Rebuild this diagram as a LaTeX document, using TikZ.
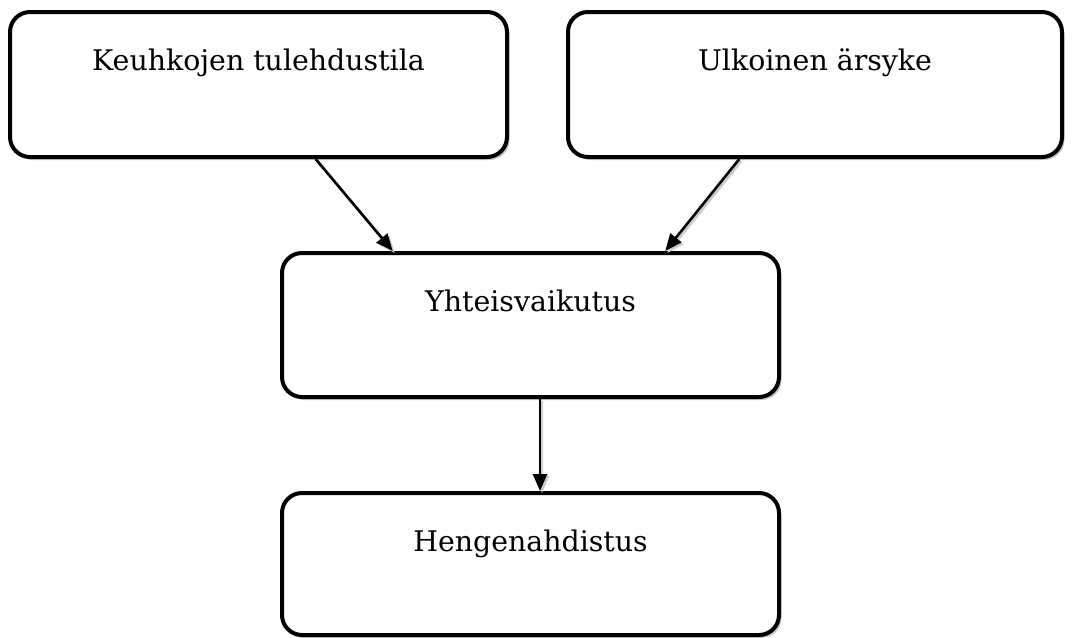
\documentclass[tikz,border=0pt]{standalone}
\usepackage{fontspec}
\setmainfont{DejaVu Serif}
\usetikzlibrary{arrows.meta,shadows,calc}
\begin{document}
\begin{tikzpicture}[x=1pt,y=-1pt,
  box/.style={draw=black, line width=4pt, rounded corners=20pt, fill=white,
    inner sep=0pt, minimum width=497pt, minimum height=145pt,
    drop shadow={shadow xshift=2.5pt, shadow yshift=-3pt, fill=black!22, opacity=1}},
  lbl/.style={anchor=base, inner sep=0pt, font=\fontsize{28.4}{32}\selectfont},
  conn/.style={line width=2.6pt, -{Triangle[length=17pt,width=14pt]},
    preaction={draw=black!20, line width=2.6pt, transform canvas={shift={(2pt,-2pt)}}}}
]
\useasboundingbox (0,0) rectangle (1081,637);
\node[box] (b1) at (258.5,84.5) {};
\node[box, minimum width=494pt] (b2) at (815,84.5) {};
\node[box, minimum height=144pt] (b3) at (530.5,325) {};
\node[box, minimum height=142pt] (b4) at (530.5,564) {};
\node[lbl] (t1) at ($(b1.north)+(0,60)$) {Keuhkojen tulehdustila};
\node[lbl] (t2) at ($(b2.north)+(0,60)$) {Ulkoinen ärsyke};
\node[lbl] (t3) at ($(b3.north)+(0,60)$) {Yhteisvaikutus};
\node[lbl] (t4) at ($(b4.north)+(0,60)$) {Hengenahdistus};
\draw[conn] ($(b1.south west)!0.614!(b1.south east)$) -- ($(b3.north west)!0.225!(b3.north east)$);
\draw[conn] ($(b2.south west)!0.348!(b2.south east)$) -- ($(b3.north west)!0.769!(b3.north east)$);
\draw[conn] ($(b3.south west)!0.519!(b3.south east)$) -- ($(b4.north west)!0.519!(b4.north east)$);
\end{tikzpicture}
\end{document}
